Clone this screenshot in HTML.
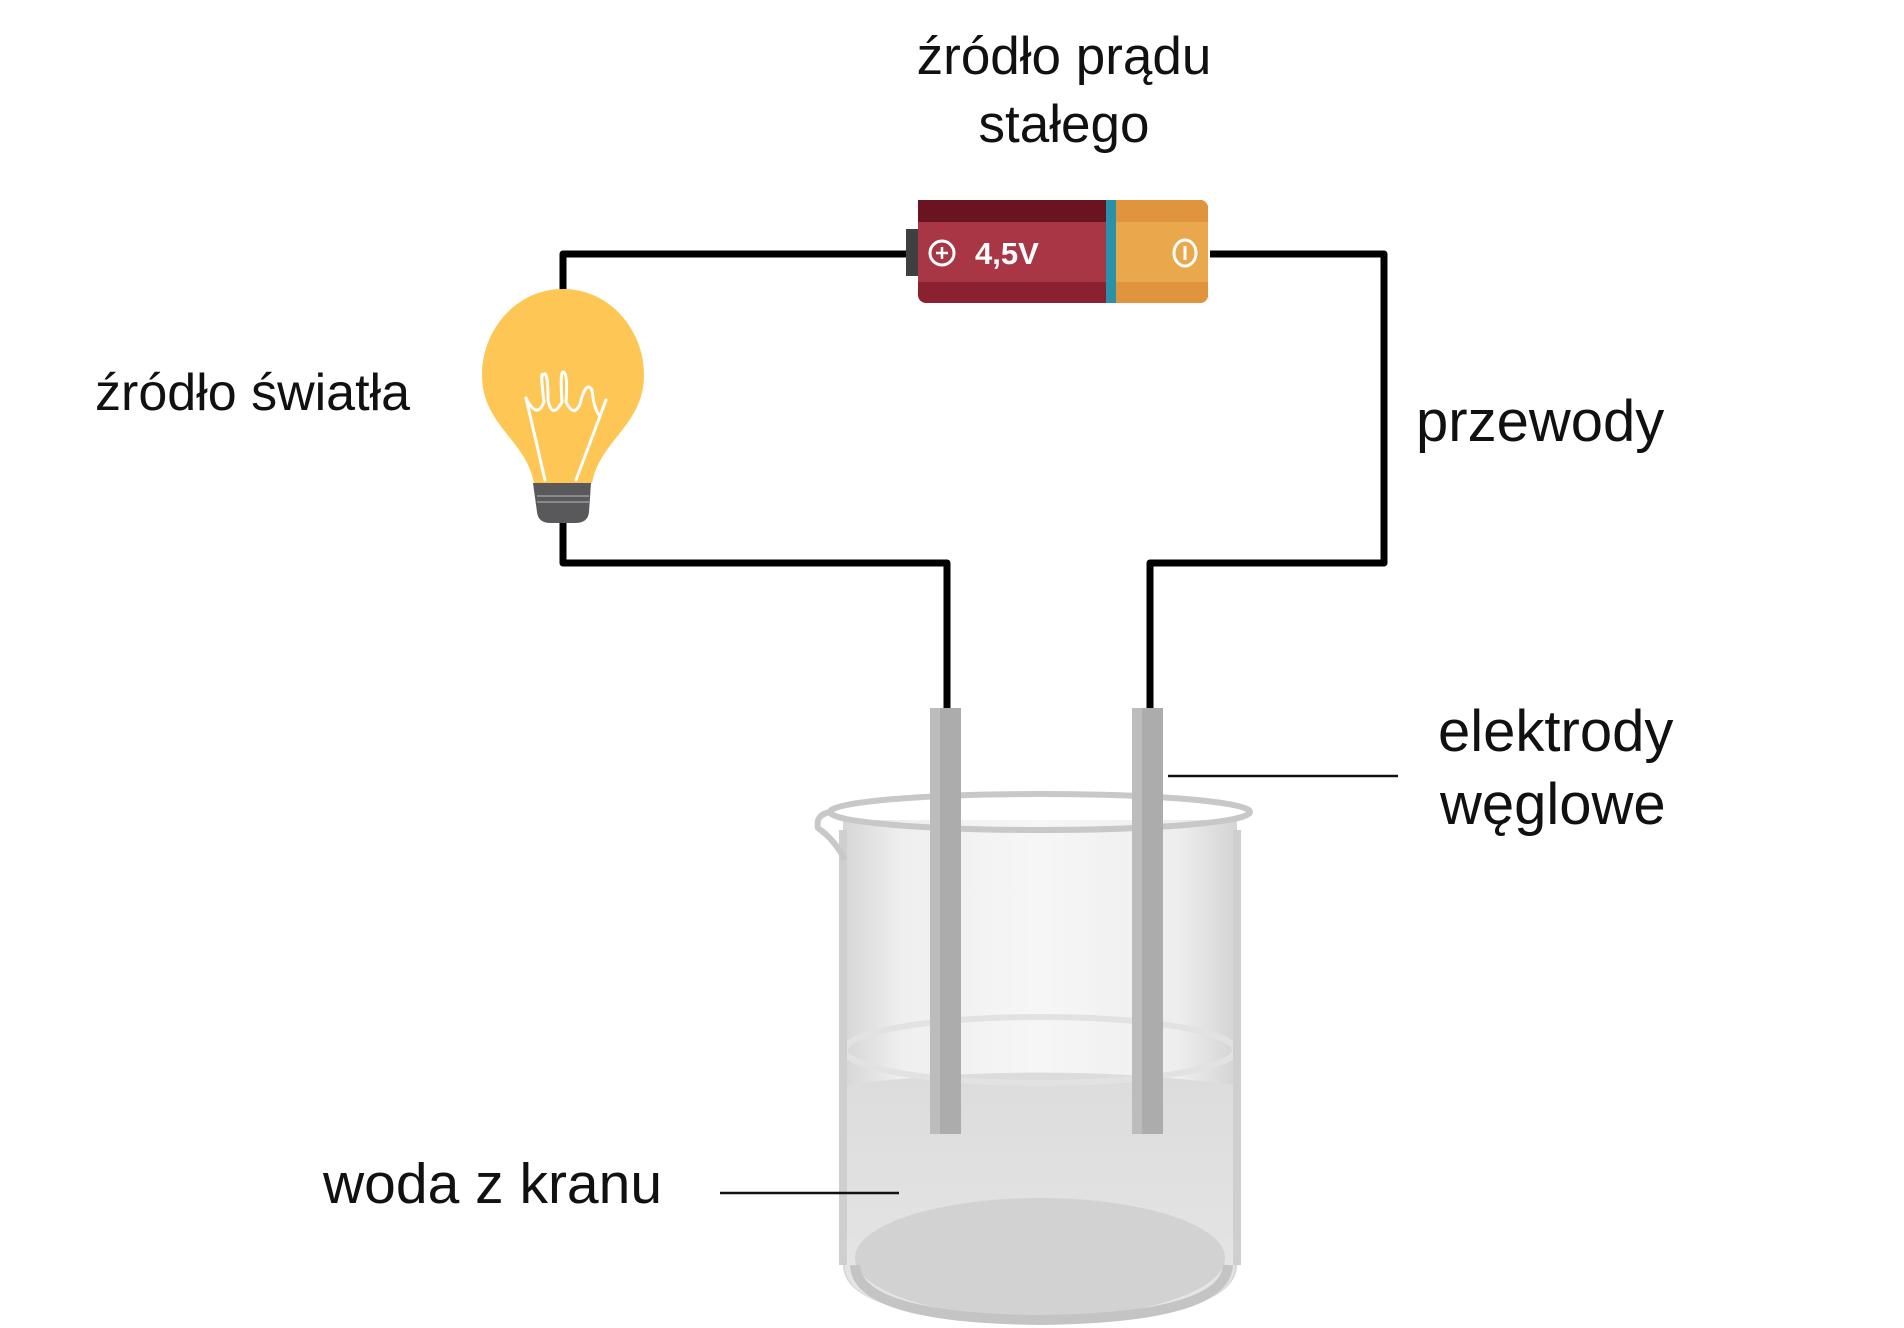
<!DOCTYPE html>
<html><head><meta charset="utf-8"><style>
html,body{margin:0;padding:0;background:#fff;}
svg{display:block;}
text{font-family:"Liberation Sans",sans-serif;fill:#111;}
</style></head><body>
<svg width="1904" height="1328" viewBox="0 0 1904 1328" xmlns="http://www.w3.org/2000/svg">
<defs>
<linearGradient id="glass" x1="0" x2="1" y1="0" y2="0">
<stop offset="0" stop-color="#d6d6d6"/><stop offset="0.15" stop-color="#efefef"/><stop offset="0.5" stop-color="#f6f6f6"/><stop offset="0.85" stop-color="#eeeeee"/><stop offset="1" stop-color="#d4d4d4"/>
</linearGradient>
<linearGradient id="water" x1="0" x2="0" y1="0" y2="1">
<stop offset="0" stop-color="#dcdcdc"/><stop offset="1" stop-color="#e6e6e6"/>
</linearGradient>
</defs>
<g fill="none" stroke="#000" stroke-width="7" stroke-linejoin="round">
<polyline points="906,254 563,254 563,300"/>
<polyline points="563,520 563,563 947,563 947,712"/>
<polyline points="1210,254 1384,254 1384,563 1150,563 1150,712"/>
</g>
<rect x="906" y="229" width="14" height="47" fill="#3f3f41"/>
<rect x="918" y="200" width="290" height="103" rx="8" fill="#8a2030"/>
<rect x="918" y="200" width="190" height="22" fill="#691420"/>
<rect x="918" y="222" width="190" height="60" fill="#a83644"/>
<rect x="1108" y="200" width="100" height="103" rx="8" fill="#e0943e"/>
<rect x="1108" y="200" width="8" height="103" fill="#e0943e"/>
<rect x="1108" y="222" width="100" height="60" fill="#eaa84c"/>
<rect x="1106" y="200" width="10" height="103" fill="#2a92a8"/>
<circle cx="942" cy="253" r="12" fill="none" stroke="#fff" stroke-width="3"/>
<path d="M936 253h12M942 247v12" stroke="#fff" stroke-width="2.5"/>
<text x="975" y="264" font-size="31" font-weight="bold" style="fill:#fff">4,5V</text>
<ellipse cx="1185" cy="253" rx="11" ry="13" fill="none" stroke="#fff" stroke-width="3"/>
<path d="M1185 246v14" stroke="#fff" stroke-width="3"/>
<path d="M563,289 C610,289 644,330 644,375 C644,425 600,440 592,483 L534,483 C526,440 482,425 482,375 C482,330 516,289 563,289 Z" fill="#fec655"/>
<path d="M533,483 L591,483 L589,512 Q588,523 575,523 L551,523 Q538,523 537,512 Z" fill="#59595b"/>
<path d="M537,496h52M537,502h52" stroke="#8a8a8c" stroke-width="2"/>
<g fill="none" stroke="#fff" stroke-width="3" stroke-linecap="round">
<path d="M526,398 L545,480"/><path d="M606,400 L576,480"/>
<path d="M526,398 Q537,420 544,402 Q540,370 543,375 Q548,368 548,400 Q552,420 562,402 Q560,372 563,372 Q568,372 566,402 Q574,418 580,404 Q586,380 592,390 Q594,410 600,416 L606,400"/>
</g>
<path d="M843,820 L843,1265 Q843,1320 1040,1322 Q1237,1320 1237,1265 L1237,820 Z" fill="url(#glass)"/>
<path d="M845,1085 Q1040,1060 1235,1085 L1235,1265 Q1237,1318 1040,1320 Q843,1318 845,1265 Z" fill="url(#water)"/>
<ellipse cx="1040" cy="1050" rx="195" ry="33" fill="none" stroke="#e2e2e2" stroke-width="6"/>
<ellipse cx="1040" cy="1258" rx="185" ry="60" fill="#d2d2d2"/>
<path d="M855,1265 Q857,1318 1040,1320 Q1225,1318 1228,1265" fill="none" stroke="#c4c4c4" stroke-width="10"/>
<path d="M843,830 L843,1265 M1237,830 L1237,1265" stroke="#cfcfcf" stroke-width="8"/>
<ellipse cx="1040" cy="812" rx="210" ry="18" fill="none" stroke="#c8c8c8" stroke-width="6"/>
<path d="M830,812 Q815,815 818,828 Q835,840 845,860" fill="none" stroke="#c8c8c8" stroke-width="6"/>
<rect x="930" y="708" width="31" height="426" fill="#acacac"/>
<rect x="930" y="708" width="10" height="426" fill="#bcbcbc"/>
<rect x="1132" y="708" width="31" height="426" fill="#acacac"/>
<rect x="1132" y="708" width="10" height="426" fill="#bcbcbc"/>
<path d="M1168,776 H1398" stroke="#111" stroke-width="2.5"/>
<path d="M720,1193 H899" stroke="#111" stroke-width="2.5"/>
<text x="1064" y="74" font-size="53" text-anchor="middle">źródło prądu</text>
<text x="1064" y="142" font-size="53" text-anchor="middle">stałego</text>
<text x="95" y="410" font-size="52">źródło światła</text>
<text x="1416" y="441" font-size="58">przewody</text>
<text x="1438" y="751" font-size="58">elektrody</text>
<text x="1440" y="824" font-size="58">węglowe</text>
<text x="323" y="1203" font-size="57">woda z kranu</text>
</svg>
</body></html>
